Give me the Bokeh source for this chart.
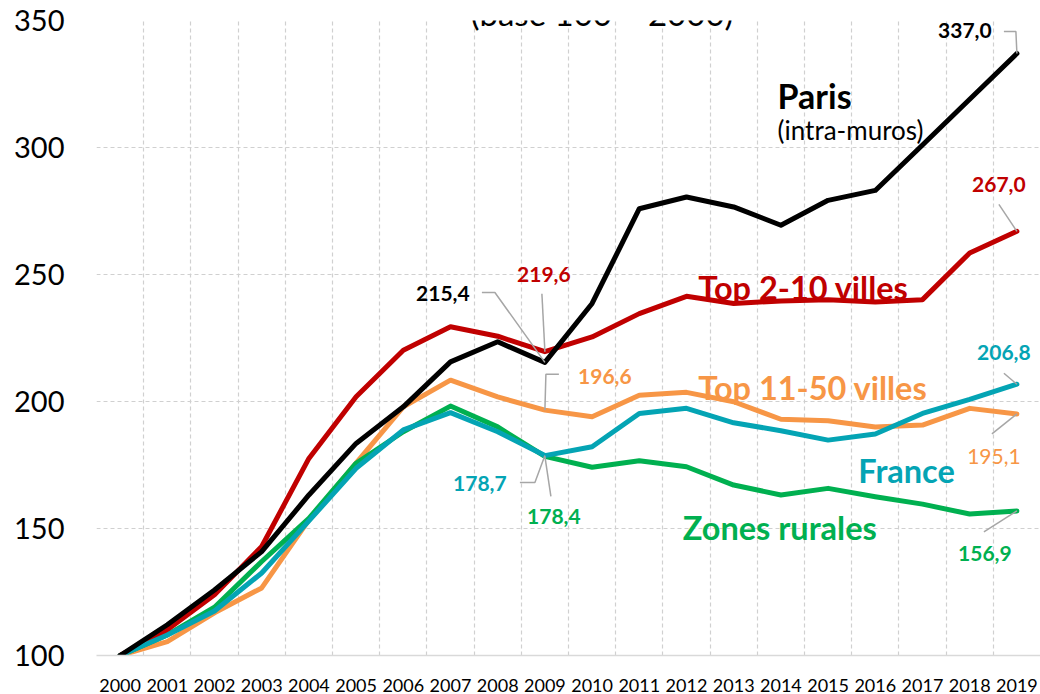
from bokeh.plotting import figure
from bokeh.models import Range1d, FixedTicker, Label
from bokeh.embed import file_html
from bokeh.resources import INLINE

years = [str(y) for y in range(2000, 2020)]
paris = [100.0, 112.1, 125.8, 140.9, 163.2, 183.5, 197.9, 215.6, 223.5, 215.4,
         238.6, 275.9, 280.5, 276.6, 269.4, 279.2, 283.1, 301.0, 319.0, 337.0]
top2_10 = [100.0, 110.1, 123.9, 142.9, 177.6, 201.9, 220.2, 229.4, 225.7, 219.6,
           225.4, 234.6, 241.4, 238.6, 239.6, 240.1, 239.2, 240.1, 258.5, 267.0]
top11_50 = [100.0, 105.5, 116.8, 126.6, 153.4, 175.7, 197.9, 208.4, 201.8, 196.6,
            194.0, 202.5, 203.6, 199.9, 193.0, 192.4, 190.0, 190.7, 197.3, 195.1]
france = [100.0, 108.1, 117.5, 132.5, 153.0, 173.7, 188.8, 195.6, 188.1, 178.7,
          182.2, 195.3, 197.3, 191.6, 188.5, 184.8, 187.2, 195.3, 200.8, 206.8]
rurales = [100.0, 108.1, 119.0, 137.0, 154.0, 175.7, 188.1, 198.2, 190.0, 178.4,
           174.1, 176.7, 174.3, 167.1, 163.2, 165.8, 162.5, 159.6, 155.7, 156.9]
y_ticks = [100, 150, 200, 250, 300, 350]

C_PARIS = "#000000"
C_TOP2 = "#C00000"
C_TOP11 = "#F79646"
C_FR = "#04A4B4"
C_RUR = "#00B050"
FONT = "Lato"

n = len(years)
xs = list(range(n))
FW, FH = 944, 636
px_x = FW / n
px_y = FH / (y_ticks[-1] - y_ticks[0])

p = figure(width=1040, height=694, output_backend="svg", toolbar_location=None,
           x_range=Range1d(-0.5, n - 0.5), y_range=Range1d(y_ticks[0], y_ticks[-1]),
           min_border_left=96, min_border_right=0, min_border_top=20, min_border_bottom=38)
p.outline_line_color = None
p.background_fill_color = "white"
p.border_fill_color = "white"

# grid
p.xgrid.ticker = FixedTicker(ticks=[i - 0.5 for i in range(n + 1)])
p.ygrid.ticker = FixedTicker(ticks=y_ticks)
for g in (p.xgrid, p.ygrid):
    g.grid_line_color = "#d0d0d0"
    g.grid_line_dash = "4 3"
    g.grid_line_width = 1.2

# axes
p.xaxis.ticker = FixedTicker(ticks=xs)
p.xaxis.major_label_overrides = {i: years[i] for i in xs}
p.xaxis.axis_line_color = "#d9d9d9"
p.xaxis.axis_line_width = 1.5
p.xaxis.major_tick_in = 0
p.xaxis.major_tick_out = 0
p.xaxis.minor_tick_line_color = None
p.xaxis.major_label_text_font = FONT
p.xaxis.major_label_text_font_size = "18px"
p.xaxis.major_label_text_color = "#000000"
p.xaxis.major_label_standoff = 23

p.yaxis.ticker = FixedTicker(ticks=y_ticks)
p.yaxis.axis_line_color = None
p.yaxis.major_tick_in = 0
p.yaxis.major_tick_out = 0
p.yaxis.minor_tick_line_color = None
p.yaxis.major_label_text_font = FONT
p.yaxis.major_label_text_font_size = "29px"
p.yaxis.major_label_text_color = "#000000"
p.yaxis.major_label_standoff = 32

# series lines (drawing order as in the reference)
for vals, col in [(top11_50, C_TOP11), (rurales, C_RUR), (top2_10, C_TOP2),
                  (france, C_FR), (paris, C_PARIS)]:
    p.line(xs, vals, line_color=col, line_width=5, line_join="round", line_cap="round")

# leader lines and value labels (offsets in pixels from the data point)
def callout(series, i, col, path, off, bold=True):
    x0, y0 = xs[i], series[i]
    lx = [x0 + dx / px_x for dx, dy in path]
    ly = [y0 - dy / px_y for dx, dy in path]
    p.line(lx, ly, line_color="#a6a6a6", line_width=1.5)
    txt = f"{series[i]:.1f}".replace(".", ",")
    p.add_layout(Label(x=x0, y=y0, x_offset=off[0], y_offset=-off[1], text=txt,
                       text_align="center", text_baseline="middle", text_font=FONT,
                       text_font_size="21px", text_color=col,
                       text_font_style="bold" if bold else "normal"))

last = n - 1
i09 = years.index("2009")
callout(paris, last, C_PARIS, [(0, 0), (-1, -22), (-13, -22)], (-52, -23))
callout(top2_10, last, C_TOP2, [(0, 0), (-18, -27)], (-18, -47))
callout(paris, i09, C_PARIS, [(0, 0), (-50, -70), (-63, -70)], (-102, -69))
callout(top2_10, i09, C_TOP2, [(0, 0), (-3, -58)], (-1, -77))
callout(top11_50, i09, C_TOP11, [(0, 0), (1, -36), (14, -36)], (60, -34))
callout(france, i09, C_FR, [(0, 0), (-10, 27), (-25, 27)], (-65, 28))
callout(rurales, i09, C_RUR, [(0, 0), (6, 40)], (9, 60))
callout(france, last, C_FR, [(0, 0), (-13, -11)], (-13, -32))
callout(top11_50, last, C_TOP11, [(0, 0), (-25, 20)], (-23, 43), bold=False)
callout(rurales, last, C_RUR, [(0, 0), (-33, 21)], (-32, 43))

# series names
def name(text, x, y, col, size, bold=True):
    p.add_layout(Label(x=x, y=y, text=text, text_align="left", text_baseline="alphabetic",
                       text_font=FONT, text_font_size=size, text_color=col,
                       text_font_style="bold" if bold else "normal"))

name("Paris", 13.93, 320.4, C_PARIS, "34px")
name("(intra-muros)", 13.93, 307.0, C_PARIS, "26px", bold=False)
name("Top 2-10 villes", 12.25, 244.9, C_TOP2, "32.5px")
name("Top 11-50 villes", 12.25, 205.6, C_TOP11, "32.5px")
name("France", 15.64, 173.0, C_FR, "32.5px")
name("Zones rurales", 11.92, 150.2, C_RUR, "32.5px")

# title (partly above the visible area, as in the reference)
p.add_layout(Label(x=10.21, y=352.8, text="(base 100 = 2000)", text_align="center",
                   text_baseline="alphabetic", text_font=FONT, text_font_size="33px",
                   text_color="#000000"))

open("out.html", "w").write(file_html(p, INLINE))
